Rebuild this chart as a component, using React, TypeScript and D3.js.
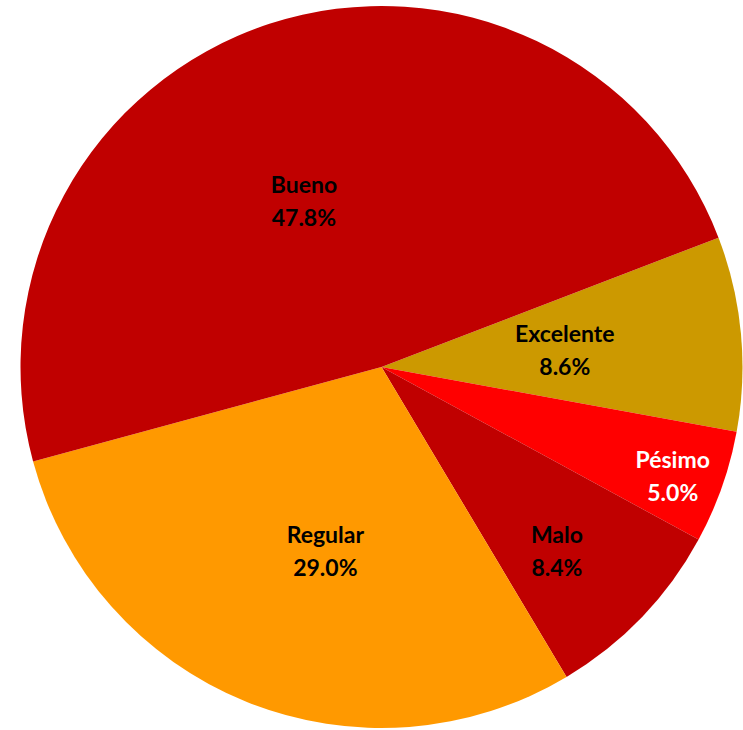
import React, { useEffect, useRef } from 'react';
import * as d3 from 'd3';

// categories and shares (%), in the order they are drawn clockwise
const categories = ['Excelente', 'Pésimo', 'Malo', 'Regular', 'Bueno'];
const shares = [8.6, 5.0, 8.4, 29.0, 47.8];
const colors = ['#CC9900', '#FF0000', '#C00000', '#FF9900', '#C00000'];
const labelColors = ['#000', '#fff', '#000', '#000', '#000'];

// label placement: fraction of the radius and angle nudge in degrees
const labelRadius = [0.51, 0.861, 0.704, 0.532, 0.507];
const labelNudge = [0, 1, 2.5, -5, -7];

const App = () => {
  const svgRef = useRef<SVGSVGElement | null>(null);

  useEffect(() => {
    const svg = d3.select(svgRef.current);
    svg.selectAll('*').remove();
    const cx = 381.5;
    const cy = 367;
    const radius = 361;

    const pie = d3.pie<number>()
      .sort(null)
      .value(d => d)
      .startAngle((69 * Math.PI) / 180)
      .endAngle((69 * Math.PI) / 180 + 2 * Math.PI);

    const arcs = pie(shares);
    const arc = d3.arc<d3.PieArcDatum<number>>().innerRadius(0).outerRadius(radius);

    const g = svg.append('g').attr('transform', `translate(${cx},${cy})`);

    g.selectAll('path')
      .data(arcs)
      .enter().append('path')
        .attr('d', arc)
        .attr('fill', (d, i) => colors[i]);

    const labels = g.selectAll('text')
      .data(arcs)
      .enter().append('text')
        .attr('text-anchor', 'middle')
        .attr('font-family', 'Lato, "Open Sans", sans-serif')
        .attr('font-weight', 'bold')
        .attr('font-size', 23)
        .attr('fill', (d, i) => labelColors[i])
        .attr('transform', (d, i) => {
          const a = (d.startAngle + d.endAngle) / 2 + (labelNudge[i] * Math.PI) / 180;
          const r = radius * labelRadius[i];
          return `translate(${r * Math.sin(a)},${-r * Math.cos(a)})`;
        });

    labels.append('tspan')
      .attr('x', 0)
      .attr('y', -8)
      .text((d, i) => categories[i]);
    labels.append('tspan')
      .attr('x', 0)
      .attr('y', 25)
      .text((d, i) => `${shares[i].toFixed(1)}%`);
  }, []);

  return (
    <svg
      ref={svgRef}
      width="743"
      height="730"
      style={{ position: 'absolute', left: 0, top: 0, background: '#fff' }}
    />
  );
};

export default App;
